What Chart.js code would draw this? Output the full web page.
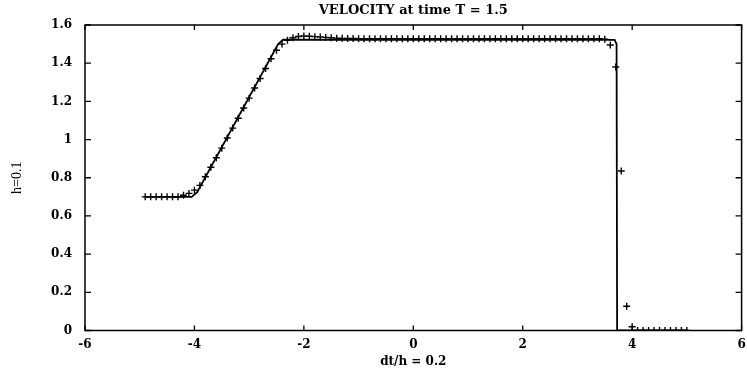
<!DOCTYPE html>
<html>
<head>
<meta charset="utf-8">
<script src="https://cdn.jsdelivr.net/npm/chart.js@4.4.1/dist/chart.umd.min.js"></script>
<style>
html,body{margin:0;padding:0;background:#fff;}
canvas{display:block;}
</style>
</head>
<body>
<canvas id="c" width="747" height="377"></canvas>
<script>
// Numerical solution (markers), x grid and values
const numX = [
 -4.9,-4.8,-4.7,-4.6,-4.5,-4.4,-4.3,-4.2,-4.1,-4.0,
 -3.9,-3.8,-3.7,-3.6,-3.5,-3.4,-3.3,-3.2,-3.1,-3.0,
 -2.9,-2.8,-2.7,-2.6,-2.5,-2.4,-2.3,-2.2,-2.1,-2.0,
 -1.9,-1.8,-1.7,-1.6,-1.5,-1.4,-1.3,-1.2,-1.1,-1.0,
 -0.9,-0.8,-0.7,-0.6,-0.5,-0.4,-0.3,-0.2,-0.1,0.0,
 0.1,0.2,0.3,0.4,0.5,0.6,0.7,0.8,0.9,1.0,
 1.1,1.2,1.3,1.4,1.5,1.6,1.7,1.8,1.9,2.0,
 2.1,2.2,2.3,2.4,2.5,2.6,2.7,2.8,2.9,3.0,
 3.1,3.2,3.3,3.4,3.5,3.6,3.7,3.8,3.9,4.0,
 4.1,4.2,4.3,4.4,4.5,4.6,4.7,4.8,4.9,5.0
];
const numY = [
 0.70,0.70,0.70,0.70,0.70,0.70,0.70,0.708,0.718,0.735,
 0.76,0.805,0.855,0.905,0.955,1.008,1.06,1.112,1.165,1.217,
 1.27,1.32,1.372,1.423,1.468,1.50,1.52,1.533,1.54,1.542,
 1.541,1.539,1.537,1.535,1.533,1.531,1.53,1.529,1.529,1.528,
 1.528,1.528,1.528,1.528,1.528,1.528,1.528,1.528,1.528,1.528,
 1.528,1.528,1.528,1.528,1.528,1.528,1.528,1.528,1.528,1.528,
 1.528,1.528,1.528,1.528,1.528,1.528,1.528,1.528,1.528,1.528,
 1.528,1.528,1.528,1.528,1.528,1.528,1.528,1.528,1.528,1.528,
 1.528,1.528,1.528,1.528,1.526,1.495,1.38,0.835,0.127,0.02,
 0,0,0,0,0,0,0,0,0,0
];
// Exact solution (solid line)
const exactX = [-4.9, -4.05, -3.95, -2.47, -2.38, 3.68, 3.715, 3.725, 5.0];
const exactY = [0.70, 0.70, 0.725, 1.50, 1.523, 1.522, 1.50, 0, 0];
// Tick labels
const xTicks = [-6, -4, -2, 0, 2, 4, 6];
const yTicks = [0, 0.2, 0.4, 0.6, 0.8, 1, 1.2, 1.4, 1.6];
const titleText = 'VELOCITY at time T = 1.5';
const xTitle = 'dt/h = 0.2';
const yTitle = 'h=0.1';

const numPts = numX.map((x, i) => ({x: x, y: numY[i]}));
const exactPts = exactX.map((x, i) => ({x: x, y: exactY[i]}));

const tickFont = {family: 'DejaVu Serif', weight: 'bold', size: 12};

const framePlugin = {
  id: 'frame',
  afterDatasetsDraw(chart) {
    const ctx = chart.ctx, a = chart.chartArea;
    const xs = chart.scales.x, ys = chart.scales.y;
    ctx.save();
    ctx.strokeStyle = '#000';
    ctx.lineWidth = 1.5;
    ctx.strokeRect(a.left, a.top, a.right - a.left, a.bottom - a.top);
    ctx.lineWidth = 1.3;
    ctx.beginPath();
    xs.ticks.forEach(t => {
      const px = xs.getPixelForValue(t.value);
      ctx.moveTo(px, a.bottom); ctx.lineTo(px, a.bottom - 5);
      ctx.moveTo(px, a.top); ctx.lineTo(px, a.top + 5);
    });
    ys.ticks.forEach(t => {
      const py = ys.getPixelForValue(t.value);
      ctx.moveTo(a.left, py); ctx.lineTo(a.left + 6, py);
      ctx.moveTo(a.right, py); ctx.lineTo(a.right - 6, py);
    });
    ctx.stroke();
    // title centred over the plot area
    ctx.fillStyle = '#000';
    ctx.font = 'bold 13px "DejaVu Serif"';
    ctx.textAlign = 'center';
    ctx.textBaseline = 'middle';
    ctx.fillText(titleText, (a.left + a.right) / 2, 11);
    ctx.restore();
  }
};

new Chart(document.getElementById('c'), {
  type: 'scatter',
  data: {
    datasets: [
      {
        label: 'exact',
        data: exactPts,
        showLine: true,
        borderColor: '#000',
        borderWidth: 1.8,
        pointRadius: 0,
        tension: 0,
        fill: false
      },
      {
        label: 'numerical',
        data: numPts,
        showLine: false,
        pointStyle: 'cross',
        pointRadius: 3.5,
        pointBorderWidth: 1.4,
        borderColor: '#000',
        backgroundColor: '#000'
      }
    ]
  },
  options: {
    responsive: false,
    devicePixelRatio: 1,
    animation: false,
    layout: {padding: {left: 0, right: 3, top: 25, bottom: 0}},
    plugins: {
      legend: {display: false},
      tooltip: {enabled: false},
      title: {display: false}
    },
    scales: {
      x: {
        type: 'linear',
        min: -6, max: 6,
        grid: {display: false},
        border: {display: false},
        afterBuildTicks(scale) { scale.ticks = xTicks.map(v => ({value: v})); },
        ticks: {color: '#000', font: tickFont, padding: -1, maxRotation: 0,
                callback: v => String(v)},
        title: {display: true, text: xTitle, color: '#000',
                font: {family: 'DejaVu Serif', weight: 'bold', size: 12},
                padding: {top: 4, bottom: 8}},
        afterFit(scale) { scale.height = 46.5; scale.paddingLeft = 0; scale.paddingRight = 0; }
      },
      y: {
        type: 'linear',
        min: 0, max: 1.6,
        grid: {display: false},
        border: {display: false},
        afterBuildTicks(scale) { scale.ticks = yTicks.map(v => ({value: v})); },
        ticks: {color: '#000', font: tickFont, padding: 5,
                callback: v => String(v)},
        title: {display: true, text: yTitle, color: '#000',
                font: {family: 'Liberation Serif', weight: 'normal', size: 14},
                padding: {top: 9, bottom: 4}},
        afterFit(scale) { scale.width = 85; scale.paddingTop = 0; scale.paddingBottom = 0; }
      }
    }
  },
  plugins: [framePlugin]
});
</script>
</body>
</html>
